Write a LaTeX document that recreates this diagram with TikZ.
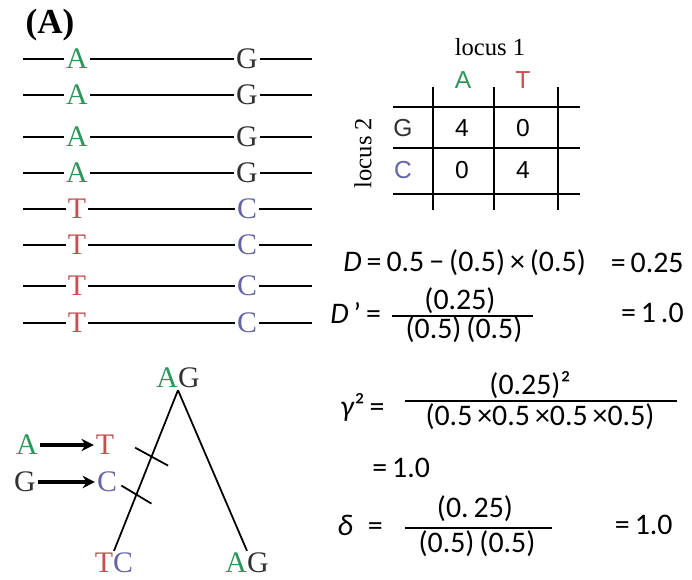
\documentclass[tikz,border=0pt]{standalone}
\usepackage{fontspec}
\setmainfont{Liberation Serif}
\newfontfamily\eqfont{Carlito}
\newfontfamily\tabfont{Liberation Sans}
\usepackage{tikz}
\usetikzlibrary{positioning}
\usetikzlibrary{calc}
\usetikzlibrary{arrows.meta}

\definecolor{baseA}{RGB}{46,150,90}
\definecolor{baseT}{RGB}{196,80,80}
\definecolor{baseC}{RGB}{100,100,165}
\definecolor{baseG}{RGB}{50,50,50}

\tikzset{
  hapline/.style={line width=1.7pt},
  base/.style={inner sep=1pt, font=\fontsize{17}{20}\selectfont},
  gridline/.style={line width=1.2pt},
  tab/.style={font=\tabfont\fontsize{14}{16}\selectfont},
  eq/.style={font=\eqfont\fontsize{17}{20}\selectfont, inner sep=0pt},
  branch/.style={line width=1pt},
  mutarrow/.style={line width=1.8pt, -{Stealth[length=7pt,width=7pt]}},
}

\begin{document}
\begin{tikzpicture}[x=0.02cm, y=-0.02cm]
        \useasboundingbox (0,0) rectangle (692,580);
        \node[font=\bfseries\fontsize{20}{24}\selectfont] (panel) at (50,25) {(A)};

        % haplotypes
        \node[base, text=baseA] (a1) at (77,59) {A};
        \node[base, text=baseG] (b1) at (247,59) {G};
        \coordinate (l1) at (23,59); \coordinate (r1) at (312,59);
        \draw[hapline] (l1) -- (a1) -- (b1) -- (r1);

        \node[base, text=baseA] (a2) at (77,95) {A};
        \node[base, text=baseG] (b2) at (247,95) {G};
        \coordinate (l2) at (23,95); \coordinate (r2) at (312,95);
        \draw[hapline] (l2) -- (a2) -- (b2) -- (r2);

        \node[base, text=baseA] (a3) at (77,137) {A};
        \node[base, text=baseG] (b3) at (247,137) {G};
        \coordinate (l3) at (23,137); \coordinate (r3) at (312,137);
        \draw[hapline] (l3) -- (a3) -- (b3) -- (r3);

        \node[base, text=baseA] (a4) at (77,173) {A};
        \node[base, text=baseG] (b4) at (247,173) {G};
        \coordinate (l4) at (23,173); \coordinate (r4) at (312,173);
        \draw[hapline] (l4) -- (a4) -- (b4) -- (r4);

        \node[base, text=baseT] (a5) at (77,209) {T};
        \node[base, text=baseC] (b5) at (247,209) {C};
        \coordinate (l5) at (23,209); \coordinate (r5) at (312,209);
        \draw[hapline] (l5) -- (a5) -- (b5) -- (r5);

        \node[base, text=baseT] (a6) at (77,245) {T};
        \node[base, text=baseC] (b6) at (247,245) {C};
        \coordinate (l6) at (23,245); \coordinate (r6) at (312,245);
        \draw[hapline] (l6) -- (a6) -- (b6) -- (r6);

        \node[base, text=baseT] (a7) at (77,286) {T};
        \node[base, text=baseC] (b7) at (247,286) {C};
        \coordinate (l7) at (23,286); \coordinate (r7) at (312,286);
        \draw[hapline] (l7) -- (a7) -- (b7) -- (r7);

        \node[base, text=baseT] (a8) at (77,323) {T};
        \node[base, text=baseC] (b8) at (247,323) {C};
        \coordinate (l8) at (23,323); \coordinate (r8) at (312,323);
        \draw[hapline] (l8) -- (a8) -- (b8) -- (r8);

        % contingency table
        \node[font=\fontsize{14}{16}\selectfont] (locus1) at (490,47) {locus 1};
        \node[font=\fontsize{14}{16}\selectfont, rotate=90] (locus2) at (363,153) {locus 2};
        \node[tab, text=baseA] (colA) at (463,80) {A};
        \node[tab, text=baseT] (colT) at (523,80) {T};
        \node[tab, text=baseG] (rowG) at (403,128) {G};
        \node[tab, text=baseC] (rowC) at (403,170) {C};
        \node[tab] (nAG) at (462,128) {4};
        \node[tab] (nTG) at (523,128) {0};
        \node[tab] (nAC) at (462,170) {0};
        \node[tab] (nTC) at (523,170) {4};
        \draw[gridline] (433,87) -- (433,210);
        \draw[gridline] (494,87) -- (494,210);
        \draw[gridline] (558,87) -- (558,210);
        \draw[gridline] (393,107) -- (580,107);
        \draw[gridline] (393,148) -- (580,148);
        \draw[gridline] (393,194) -- (580,194);

        % statistics
        \node[eq, anchor=west] (dline) at (343,263) {\textit{D}\,=\,0.5\,−\,(0.5)\,×\,(0.5)};
        \node[eq, anchor=east] (dval) at (684,263) {=\,0.25};

        \node[eq, anchor=west] (dpname) at (330,313) {\textit{D}\,’\,=};
        \node[eq] (dpnum) at (460,301) {(0.25)};
        \node[eq] (dpden) at (464,330) {(0.5)\,(0.5)};
        \coordinate (dpbarl) at (392,316); \coordinate (dpbarr) at (533,316);
        \draw[branch] (dpbarl) -- (dpbarr);
        \node[eq, anchor=east] (dpval) at (684,313) {=\,1\,.0};

        \node[eq, anchor=west] (rname) at (340,407) {\textit{γ}²\,=};
        \node[eq] (rnum) at (530,385) {(0.25)²};
        \node[eq] (rden) at (540,417) {(0.5\,×0.5\,×0.5\,×0.5)};
        \coordinate (rbarl) at (405,401); \coordinate (rbarr) at (677,401);
        \draw[branch] (rbarl) -- (rbarr);
        \node[eq, anchor=west] (rval) at (372,468) {=\,1.0};

        \node[eq, anchor=west] (dlname) at (337,525) {\textit{δ}\enspace=};
        \node[eq] (dlnum) at (475,509) {(0.\,25)};
        \node[eq] (dlden) at (477,544) {(0.5)\,(0.5)};
        \coordinate (dlbarl) at (405,528); \coordinate (dlbarr) at (552,528);
        \draw[branch] (dlbarl) -- (dlbarr);
        \node[eq, anchor=east] (dlval) at (673,525) {=\,1.0};

        % genealogy
        \node[base] (top) at (178,378) {\textcolor{baseA}{A}\textcolor{baseG}{G}};
        \node[base] (left) at (114,563) {\textcolor{baseT}{T}\textcolor{baseC}{C}};
        \node[base] (right) at (247,563) {\textcolor{baseA}{A}\textcolor{baseG}{G}};
        \draw[branch] (top.south) -- (left.north);
        \draw[branch] (top.south) -- (right.north);
        \coordinate (mut1) at ($(top.south)!0.42!(left.north)$);
        \coordinate (mut2) at ($(top.south)!0.65!(left.north)$);
        \draw[branch] ($(mut1)+(-16,-10)$) -- ($(mut1)+(17,8)$);
        \draw[branch] ($(mut2)+(-15,-9)$) -- ($(mut2)+(15,9)$);

        \node[base, text=baseA] (fromA) at (27,445) {A};
        \node[base, text=baseT] (toT) at (105,445) {T};
        \node[base, text=baseG] (fromG) at (25,482) {G};
        \node[base, text=baseC] (toC) at (107,482) {C};
        \draw[mutarrow] (fromA) -- (toT);
        \draw[mutarrow] (fromG) -- (toC);
    \end{tikzpicture}
\end{document}
